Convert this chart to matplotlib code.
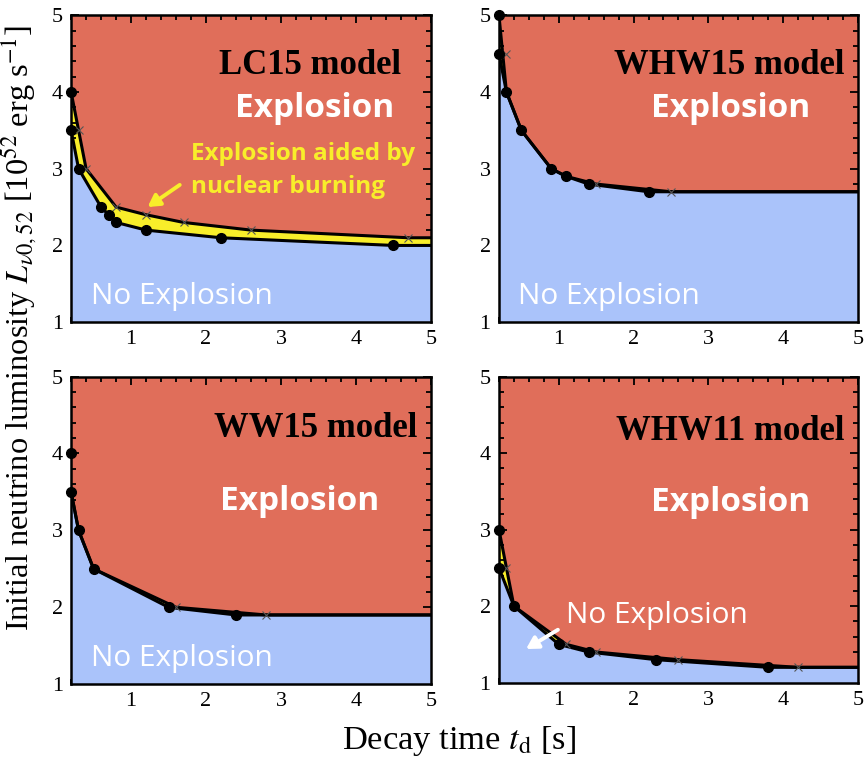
import matplotlib
matplotlib.use("Agg")
import matplotlib.pyplot as plt
from matplotlib.ticker import MultipleLocator

plt.rcParams["font.family"] = ["Liberation Serif", "DejaVu Serif"]
plt.rcParams["mathtext.fontset"] = "stix"

# ---------------------------------------------------------------------------
# Data: boundaries (t_d [s], L_nu0,52)
# ---------------------------------------------------------------------------
models = ["LC15 model", "WHW15 model", "WW15 model", "WHW11 model"]

# upper boundary (explosion side of the yellow band)
up_t = [[0.2, 0.3, 0.4, 0.8, 1.2, 1.7, 2.6, 4.7, 5.0],
        [0.2, 0.3, 0.5, 0.9, 1.1, 1.5, 2.5, 5.0],
        [0.2, 0.3, 0.5, 1.6, 2.8, 5.0],
        [0.2, 0.4, 1.1, 1.5, 2.6, 4.2, 5.0]]
up_L = [[4.0, 3.5, 3.0, 2.5, 2.4, 2.3, 2.2, 2.1, 2.1],
        [5.0, 4.0, 3.5, 3.0, 2.9, 2.8, 2.7, 2.7],
        [3.5, 3.0, 2.5, 2.0, 1.9, 1.9],
        [3.0, 2.0, 1.5, 1.4, 1.3, 1.2, 1.2]]

# lower boundary (no explosion below)
lo_t = [[0.2, 0.3, 0.6, 0.7, 0.8, 1.2, 2.2, 4.5, 5.0],
        [0.2, 0.3, 0.5, 0.9, 1.1, 1.4, 2.2, 5.0],
        [0.2, 0.3, 0.5, 1.5, 2.4, 5.0],
        [0.2, 0.4, 1.0, 1.4, 2.3, 3.8, 5.0]]
lo_L = [[3.5, 3.0, 2.5, 2.4, 2.3, 2.2, 2.1, 2.0, 2.0],
        [4.5, 4.0, 3.5, 3.0, 2.9, 2.8, 2.7, 2.7],
        [3.5, 3.0, 2.5, 2.0, 1.9, 1.9],
        [2.5, 2.0, 1.5, 1.4, 1.3, 1.2, 1.2]]

# simulation points: dots (failed) and crosses
dot_t = [[0.2, 0.2, 0.3, 0.6, 0.7, 0.8, 1.2, 2.2, 4.5],
         [0.2, 0.2, 0.3, 0.5, 0.9, 1.1, 1.4, 2.2],
         [0.2, 0.2, 0.3, 0.5, 1.5, 2.4],
         [0.2, 0.2, 0.4, 1.0, 1.4, 2.3, 3.8]]
dot_L = [[4.0, 3.5, 3.0, 2.5, 2.4, 2.3, 2.2, 2.1, 2.0],
         [5.0, 4.5, 4.0, 3.5, 3.0, 2.9, 2.8, 2.7],
         [4.0, 3.5, 3.0, 2.5, 2.0, 1.9],
         [3.0, 2.5, 2.0, 1.5, 1.4, 1.3, 1.2]]
crs_t = [[0.3, 0.4, 0.8, 1.2, 1.7, 2.6, 4.7],
         [0.3, 1.5, 2.5],
         [1.6, 2.8],
         [0.3, 1.1, 1.5, 2.6, 4.2]]
crs_L = [[3.5, 3.0, 2.5, 2.4, 2.3, 2.2, 2.1],
         [4.5, 2.8, 2.7],
         [2.0, 1.9],
         [2.5, 1.5, 1.4, 1.3, 1.2]]

# label positions (data coords)
expl_pos = [(3.45, 3.67), (3.3, 3.67), (3.25, 3.27), (3.3, 3.24)]
noexpl_pos = [(0.47, 1.23), (0.45, 1.23), (0.47, 1.23), (1.1, 1.78)]
model_pos = [(4.6, 4.23), (4.82, 4.23), (4.82, 4.21), (4.82, 4.17)]

RED = "#E06E5A"
BLUE = "#AAC3FA"
YELLOW = "#F8EE2A"
SANS = ["Open Sans", "DejaVu Sans"]

fig = plt.figure(figsize=(8.67, 7.67), dpi=100)
rects = [[0.082, 0.580, 0.415, 0.400],
         [0.5755, 0.580, 0.414, 0.400],
         [0.082, 0.108, 0.415, 0.401],
         [0.5755, 0.110, 0.414, 0.399]]

for i, r in enumerate(rects):
    ax = fig.add_axes(r)
    ax.set_facecolor(RED)
    ax.fill_between(up_t[i], up_L[i], 1, color=YELLOW, lw=0, zorder=1)
    ax.fill_between(lo_t[i], lo_L[i], 1, color=BLUE, lw=0, zorder=2)
    ax.plot(up_t[i], up_L[i], color="black", lw=2.2, zorder=3)
    ax.plot(lo_t[i], lo_L[i], color="black", lw=2.2, zorder=3)
    ax.plot(crs_t[i], crs_L[i], "x", color="#555555", ms=6, mew=0.8, zorder=4)
    ax.plot(dot_t[i], dot_L[i], "o", color="black", ms=7, zorder=5, clip_on=False)

    ax.set_xlim(0.2, 5)
    ax.set_ylim(1, 5)
    ax.xaxis.set_major_locator(MultipleLocator(1))
    ax.xaxis.set_minor_locator(MultipleLocator(0.2))
    ax.yaxis.set_major_locator(MultipleLocator(1))
    ax.yaxis.set_minor_locator(MultipleLocator(0.2))
    ax.tick_params(which="both", direction="in", top=True, right=True,
                   labelsize=16, width=1.3, pad=6)
    ax.tick_params(which="major", length=6)
    ax.tick_params(which="minor", length=3.5)
    for s in ax.spines.values():
        s.set_linewidth(1.8)

    ax.text(*model_pos[i], models[i], ha="right", va="baseline",
            fontsize=25, fontweight="bold", zorder=6)
    ax.text(*expl_pos[i], "Explosion", ha="center", va="baseline", color="white",
            fontsize=24, fontweight="bold", family=SANS, zorder=6)
    ax.text(*noexpl_pos[i], "No Explosion", ha="left", va="baseline", color="white",
            fontsize=21.5, family=SANS, zorder=6)

    if i == 0:
        ax.text(1.8, 3.11, "Explosion aided by", color=YELLOW, fontsize=17.5,
                fontweight="bold", family=SANS, va="baseline", zorder=6)
        ax.text(1.8, 2.68, "nuclear burning", color=YELLOW, fontsize=17.5,
                fontweight="bold", family=SANS, va="baseline", zorder=6)
        ax.annotate("", xy=(1.19, 2.48), xytext=(1.68, 2.81), zorder=6,
                    arrowprops=dict(arrowstyle="-|>,head_length=0.7,head_width=0.4",
                                    color=YELLOW, lw=2.8))
    if i == 3:
        ax.annotate("", xy=(0.53, 1.42), xytext=(1.02, 1.71), zorder=6,
                    arrowprops=dict(arrowstyle="-|>,head_length=0.7,head_width=0.4",
                                    color="white", lw=2.8))

fig.text(0.022, 0.572,
         r"Initial neutrino luminosity $L_{\nu 0,52}$ [10$^{52}$ erg s$^{-1}$]",
         rotation=90, ha="center", va="center", fontsize=23.3)
fig.text(0.53, 0.034, r"Decay time $t_{\rm d}$ [s]", ha="center", va="center",
         fontsize=24.8)

fig.savefig("out.png", dpi=100)
